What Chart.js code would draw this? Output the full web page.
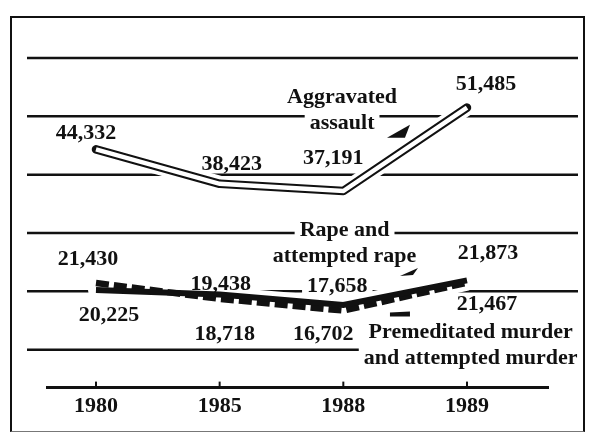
<!DOCTYPE html>
<html>
<head>
<meta charset="utf-8">
<script src="https://cdn.jsdelivr.net/npm/chart.js@4"></script>
<style>
    html, body { margin: 0; padding: 0; background: #fff; }
    #wrap { position: relative; width: 589px; height: 437px; }
    #frame {
        position: absolute; left: 10px; top: 16px; width: 575px; height: 416px;
        box-sizing: border-box; border: 2px solid #111; border-bottom: 1px solid #777;
        pointer-events: none;
    }
</style>
</head>
<body>
<div id="wrap">
    <canvas id="crimeChart"></canvas>
    <div id="frame"></div>
</div>
<script>
// Data
const years = ['1980', '1985', '1988', '1989'];
const aggravatedAssault = [44332, 38423, 37191, 51485];
const rape = [20225, 19438, 17658, 21873];
const murder = [21430, 18718, 16702, 21467];
const gridValues = [10000, 20000, 30000, 40000, 50000, 60000];

const FONT = 'bold 22px "Liberation Serif", "Times New Roman", serif';
const INK = '#111';

// where each value label sits, in px from its point
const labelOffsets = [
    { values: aggravatedAssault, offsets: [[-10, -17], [12, -21], [-10, -34], [19, -24]] },
    { values: rape, offsets: [[13, 24], [1, -11], [-6, -20], [21, -28]] },
    { values: murder, offsets: [[-8, -25], [5, 35], [-20, 23], [20, 21]] }
];

// series names, anchored in data units (x = year index)
const seriesNotes = [
    { lines: ['Aggravated', 'assault'], x: 1.99, y: 53500 },
    { lines: ['Rape and', 'attempted rape'], x: 2.01, y: 30600 },
    { lines: ['Premeditated murder', 'and attempted murder'], x: 3.03, y: 13200 }
];

// small pointer wedges next to the names
const pointers = [
    { x: 2.458, y: 47525, shape: [[10, -6], [5, 7], [-13, 7]] },
    { x: 2.531, y: 23294, shape: [[9, -4], [4, 3], [-9, 4]] },
    { x: 2.458, y: 16041, shape: [[-10, -2], [10, -3], [10, 2], [-10, 2]] }
];

const toPoints = arr => arr.map((v, i) => ({ x: i, y: v }));

function eachLabel(chart, fn) {
    const { x, y } = chart.scales;
    labelOffsets.forEach(s => {
        s.values.forEach((v, i) => {
            const [dx, dy] = s.offsets[i];
            fn(v.toLocaleString('en-US'), x.getPixelForValue(i) + dx, y.getPixelForValue(v) + dy);
        });
    });
    seriesNotes.forEach(n => {
        const cx = x.getPixelForValue(n.x);
        const cy = y.getPixelForValue(n.y);
        n.lines.forEach((line, k) => fn(line, cx, cy + k * 26));
    });
}

const decorPlugin = {
    id: 'decor',
    beforeDatasetsDraw(chart) {
        const { ctx, chartArea, scales: { x, y } } = chart;
        ctx.save();
        ctx.strokeStyle = INK;
        ctx.lineWidth = 2.5;
        gridValues.forEach(v => {
            const py = y.getPixelForValue(v);
            ctx.beginPath();
            ctx.moveTo(chartArea.left - 20, py);
            ctx.lineTo(chartArea.right + 30, py);
            ctx.stroke();
        });
        // little upward ticks on the year axis
        ctx.lineWidth = 2;
        years.forEach((_, i) => {
            const px = x.getPixelForValue(i);
            ctx.beginPath();
            ctx.moveTo(px, chartArea.bottom);
            ctx.lineTo(px, chartArea.bottom - 6);
            ctx.stroke();
        });
        // white gaps behind the texts
        ctx.font = FONT;
        ctx.fillStyle = '#fff';
        eachLabel(chart, (text, cx, cy) => {
            const w = ctx.measureText(text).width;
            ctx.fillRect(cx - w / 2 - 5, cy - 9, w + 10, 18);
        });
        ctx.restore();
    },
    afterDatasetsDraw(chart) {
        const { ctx, scales: { x, y } } = chart;
        ctx.save();
        ctx.font = FONT;
        ctx.fillStyle = INK;
        ctx.textAlign = 'center';
        ctx.textBaseline = 'middle';
        eachLabel(chart, (text, cx, cy) => ctx.fillText(text, cx, cy + 1));

        pointers.forEach(p => {
            const px = x.getPixelForValue(p.x);
            const py = y.getPixelForValue(p.y);
            ctx.beginPath();
            p.shape.forEach(([dx, dy], k) => {
                if (k === 0) ctx.moveTo(px + dx, py + dy);
                else ctx.lineTo(px + dx, py + dy);
            });
            ctx.closePath();
            ctx.fill();
        });
        ctx.restore();
    }
};

// white halo under a line so the rules break around it
const halo = (data, order) => ({
    label: 'halo',
    data: toPoints(data),
    borderColor: '#fff',
    borderWidth: 16,
    borderCapStyle: 'round',
    borderJoinStyle: 'round',
    order
});

const ctx = document.getElementById('crimeChart');

new Chart(ctx, {
    type: 'line',
    data: {
        datasets: [{
            label: 'Aggravated assault',
            data: toPoints(aggravatedAssault),
            borderColor: '#fff',
            borderWidth: 4.5,
            borderCapStyle: 'butt',
            order: 0
        }, {
            label: 'Aggravated assault outline',
            data: toPoints(aggravatedAssault),
            borderColor: INK,
            borderWidth: 8.5,
            borderCapStyle: 'round',
            borderJoinStyle: 'round',
            order: 1
        }, {
            label: 'Rape and attempted rape',
            data: toPoints(rape),
            borderColor: INK,
            borderWidth: 6,
            order: 2
        }, {
            label: 'Premeditated murder and attempted murder',
            data: toPoints(murder),
            borderColor: INK,
            borderWidth: 6.5,
            borderDash: [13, 5],
            order: 3
        },
        halo(rape, 10),
        halo(murder, 11),
        halo(aggravatedAssault, 12)]
    },
    options: {
        responsive: true,
        maintainAspectRatio: false,
        animation: false,
        elements: {
            point: { radius: 0, hoverRadius: 0 },
            line: { tension: 0, fill: false }
        },
        layout: { padding: { left: 47, right: 41, top: 20, bottom: 11 } },
        plugins: {
            legend: { display: false },
            tooltip: { enabled: false }
        },
        scales: {
            x: {
                type: 'linear',
                min: -0.396,
                max: 3.655,
                afterBuildTicks: axis => { axis.ticks = years.map((_, i) => ({ value: i })); },
                ticks: {
                    callback: v => years[v],
                    font: { family: '"Liberation Serif", serif', size: 22, weight: 'bold' },
                    color: INK,
                    padding: 6,
                    maxRotation: 0,
                    autoSkip: false
                },
                grid: { display: false, drawTicks: false },
                border: { display: true, color: INK, width: 3 }
            },
            y: {
                display: false,
                min: 3500,
                max: 66500
            }
        }
    },
    plugins: [decorPlugin]
});
</script>
</body>
</html>
